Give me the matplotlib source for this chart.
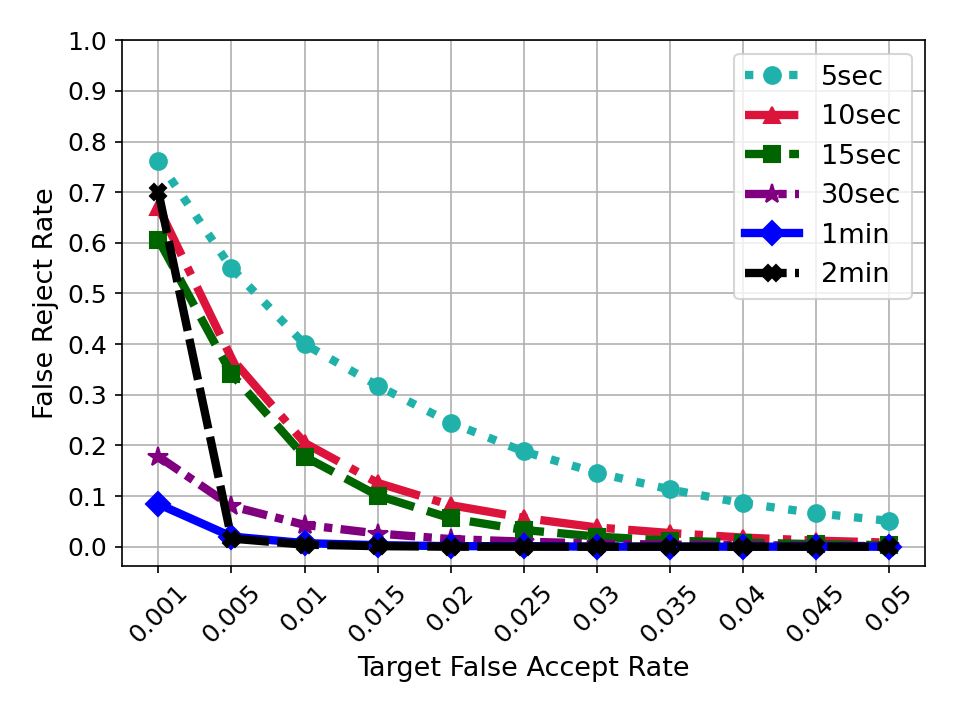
import matplotlib
matplotlib.use("Agg")
import matplotlib.pyplot as plt
import numpy as np

x_labels = ["0.001", "0.005", "0.01", "0.015", "0.02", "0.025", "0.03", "0.035", "0.04", "0.045", "0.05"]

frr_5sec = [0.762, 0.55, 0.40, 0.318, 0.245, 0.188, 0.146, 0.113, 0.086, 0.066, 0.051]
frr_10sec = [0.67, 0.372, 0.205, 0.126, 0.082, 0.057, 0.038, 0.027, 0.018, 0.012, 0.008]
frr_15sec = [0.606, 0.341, 0.178, 0.101, 0.056, 0.033, 0.02, 0.012, 0.008, 0.005, 0.003]
frr_30sec = [0.178, 0.08, 0.043, 0.026, 0.015, 0.01, 0.006, 0.004, 0.003, 0.002, 0.001]
frr_1min = [0.084, 0.02, 0.007, 0.003, 0.001, 0.001, 0.0, 0.0, 0.0, 0.0, 0.0]
frr_2min = [0.70, 0.016, 0.004, 0.001, 0.0, 0.0, 0.0, 0.0, 0.0, 0.0, 0.0]

series = [
    ("5sec", frr_5sec, "lightseagreen", ":", "o", 8),
    ("10sec", frr_10sec, "crimson", "-.", "^", 8),
    ("15sec", frr_15sec, "darkgreen", "--", "s", 8),
    ("30sec", frr_30sec, "purple", (0, (3, 1, 1, 1)), "*", 10),
    ("1min", frr_1min, "blue", "-", "D", 8),
    ("2min", frr_2min, "black", (0, (5, 1)), "X", 8),
]

fig, ax = plt.subplots(figsize=(6.4, 4.8), dpi=150)
xs = np.arange(len(x_labels))
for name, vals, col, ls, mk, ms in series:
    ax.plot(xs, vals, color=col, linestyle=ls, marker=mk, linewidth=4,
            markersize=ms, label=name)

ax.set_xticks(xs)
ax.set_xticklabels(x_labels, rotation=45, fontsize=12)
ax.set_yticks(np.arange(0, 1.01, 0.1))
ax.set_yticklabels([f"{v:.1f}" for v in np.arange(0, 1.01, 0.1)], fontsize=12)
ax.set_ylim(-0.038, 1.0)
ax.set_xlim(-0.5, 10.5)
ax.grid(True)
ax.set_xlabel("Target False Accept Rate", fontsize=13)
ax.set_ylabel("False Reject Rate", fontsize=13)
ax.legend(loc="upper right", fontsize=13)
fig.subplots_adjust(left=0.127, right=0.964, top=0.944, bottom=0.214)
fig.savefig("out.png", dpi=150)
